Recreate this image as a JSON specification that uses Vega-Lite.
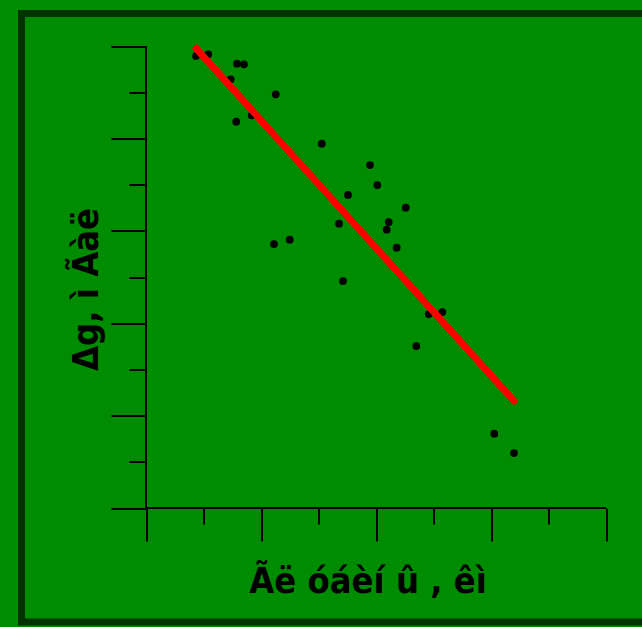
{
  "$schema": "https://vega.github.io/schema/vega-lite/v6.json",
  "width": 625,
  "height": 608.5,
  "autosize": {"type": "none"},
  "padding": {"left": 21.5, "top": 13.5, "right": -4.5, "bottom": 5},
  "background": "#008c00",
  "config": {"view": {"fill": "#008c00", "stroke": "#003300", "strokeWidth": 7}},
  "datasets": {
    "points": [
      {"x": 0.870, "y": 9.784}, {"x": 1.083, "y": 9.820}, {"x": 1.583, "y": 9.617}, {"x": 1.704, "y": 9.604},
      {"x": 1.473, "y": 9.279}, {"x": 2.256, "y": 8.955}, {"x": 1.570, "y": 8.361}, {"x": 1.838, "y": 8.500},
      {"x": 3.056, "y": 7.885}, {"x": 3.896, "y": 7.424}, {"x": 4.023, "y": 6.991}, {"x": 3.513, "y": 6.775},
      {"x": 4.517, "y": 6.500}, {"x": 4.221, "y": 6.190}, {"x": 4.186, "y": 6.024}, {"x": 3.357, "y": 6.154},
      {"x": 2.499, "y": 5.807}, {"x": 2.226, "y": 5.714}, {"x": 4.360, "y": 5.634}, {"x": 3.426, "y": 4.913},
      {"x": 4.917, "y": 4.199}, {"x": 5.153, "y": 4.242}, {"x": 4.701, "y": 3.506}, {"x": 6.057, "y": 1.608},
      {"x": 6.400, "y": 1.190}
    ],
    "fit": [{"x": 0.870, "y": 9.950}, {"x": 6.400, "y": 2.316}],
    "origin": [{}]
  },
  "layer": [
    {
      "data": {"name": "origin"},
      "mark": {"type": "rule", "color": "black", "strokeWidth": 2},
      "encoding": {
        "x": {"datum": 0, "type": "quantitative", "scale": {"domain": [-2.1652, 8.704], "nice": false, "zero": false},
          "axis": {"title": "Ãë óáèí û , êì", "values": [0,1,2,3,4,5,6,7,8], "labels": false, "domain": false, "grid": false, "offset": -114, "tickColor": "black", "tickWidth": 2, "tickSize": {"condition": {"test": "datum.value % 2 === 0", "value": 33}, "value": 16}, "titleFont": "DejaVu Sans Condensed, Liberation Sans, sans-serif", "titleFontSize": 36, "titleFontWeight": "bold", "titleColor": "black", "titleX": 346, "titleY": 84, "titleAlign": "center", "titleBaseline": "alphabetic"}},
        "x2": {"datum": 8},
        "y": {"datum": 0, "type": "quantitative", "scale": {"domain": [-2.4675, 10.7035], "nice": false, "zero": false},
          "axis": {"title": "Δg, ì Ãàë", "values": [0,1,2,3,4,5,6,7,8,9,10], "labels": false, "domain": false, "grid": false, "offset": -124.5, "tickColor": "black", "tickWidth": 2, "tickSize": {"condition": {"test": "datum.value % 2 === 0", "value": 35}, "value": 17}, "titleFont": "DejaVu Sans Condensed, Liberation Sans, sans-serif", "titleFontSize": 36, "titleFontWeight": "bold", "titleColor": "black", "titleAngle": -90, "titleX": -48.5, "titleY": 275.5, "titleAlign": "center", "titleBaseline": "alphabetic"}}
      }
    },
    {
      "data": {"name": "origin"},
      "mark": {"type": "rule", "color": "black", "strokeWidth": 2},
      "encoding": {
        "x": {"datum": 0, "type": "quantitative", "scale": {"domain": [-2.1652, 8.704], "nice": false, "zero": false},
          "axis": {"title": "Ãë óáèí û , êì", "values": [0,1,2,3,4,5,6,7,8], "labels": false, "domain": false, "grid": false, "offset": -114, "tickColor": "black", "tickWidth": 2, "tickSize": {"condition": {"test": "datum.value % 2 === 0", "value": 33}, "value": 16}, "titleFont": "DejaVu Sans Condensed, Liberation Sans, sans-serif", "titleFontSize": 36, "titleFontWeight": "bold", "titleColor": "black", "titleX": 346, "titleY": 84, "titleAlign": "center", "titleBaseline": "alphabetic"}},
        "y": {"datum": 0, "type": "quantitative", "scale": {"domain": [-2.4675, 10.7035], "nice": false, "zero": false},
          "axis": {"title": "Δg, ì Ãàë", "values": [0,1,2,3,4,5,6,7,8,9,10], "labels": false, "domain": false, "grid": false, "offset": -124.5, "tickColor": "black", "tickWidth": 2, "tickSize": {"condition": {"test": "datum.value % 2 === 0", "value": 35}, "value": 17}, "titleFont": "DejaVu Sans Condensed, Liberation Sans, sans-serif", "titleFontSize": 36, "titleFontWeight": "bold", "titleColor": "black", "titleAngle": -90, "titleX": -48.5, "titleY": 275.5, "titleAlign": "center", "titleBaseline": "alphabetic"}},
        "y2": {"datum": 10}
      }
    },
    {
      "data": {"name": "points"},
      "mark": {"type": "circle", "color": "black", "opacity": 1, "size": 60},
      "encoding": {
        "x": {"field": "x", "type": "quantitative", "scale": {"domain": [-2.1652, 8.704], "nice": false, "zero": false},
          "axis": {"title": "Ãë óáèí û , êì", "values": [0,1,2,3,4,5,6,7,8], "labels": false, "domain": false, "grid": false, "offset": -114, "tickColor": "black", "tickWidth": 2, "tickSize": {"condition": {"test": "datum.value % 2 === 0", "value": 33}, "value": 16}, "titleFont": "DejaVu Sans Condensed, Liberation Sans, sans-serif", "titleFontSize": 36, "titleFontWeight": "bold", "titleColor": "black", "titleX": 346, "titleY": 84, "titleAlign": "center", "titleBaseline": "alphabetic"}},
        "y": {"field": "y", "type": "quantitative", "scale": {"domain": [-2.4675, 10.7035], "nice": false, "zero": false},
          "axis": {"title": "Δg, ì Ãàë", "values": [0,1,2,3,4,5,6,7,8,9,10], "labels": false, "domain": false, "grid": false, "offset": -124.5, "tickColor": "black", "tickWidth": 2, "tickSize": {"condition": {"test": "datum.value % 2 === 0", "value": 35}, "value": 17}, "titleFont": "DejaVu Sans Condensed, Liberation Sans, sans-serif", "titleFontSize": 36, "titleFontWeight": "bold", "titleColor": "black", "titleAngle": -90, "titleX": -48.5, "titleY": 275.5, "titleAlign": "center", "titleBaseline": "alphabetic"}}
      }
    },
    {
      "data": {"name": "fit"},
      "mark": {"type": "line", "color": "#ff0000", "strokeWidth": 7, "strokeCap": "round"},
      "encoding": {
        "x": {"field": "x", "type": "quantitative", "scale": {"domain": [-2.1652, 8.704], "nice": false, "zero": false},
          "axis": {"title": "Ãë óáèí û , êì", "values": [0,1,2,3,4,5,6,7,8], "labels": false, "domain": false, "grid": false, "offset": -114, "tickColor": "black", "tickWidth": 2, "tickSize": {"condition": {"test": "datum.value % 2 === 0", "value": 33}, "value": 16}, "titleFont": "DejaVu Sans Condensed, Liberation Sans, sans-serif", "titleFontSize": 36, "titleFontWeight": "bold", "titleColor": "black", "titleX": 346, "titleY": 84, "titleAlign": "center", "titleBaseline": "alphabetic"}},
        "y": {"field": "y", "type": "quantitative", "scale": {"domain": [-2.4675, 10.7035], "nice": false, "zero": false},
          "axis": {"title": "Δg, ì Ãàë", "values": [0,1,2,3,4,5,6,7,8,9,10], "labels": false, "domain": false, "grid": false, "offset": -124.5, "tickColor": "black", "tickWidth": 2, "tickSize": {"condition": {"test": "datum.value % 2 === 0", "value": 35}, "value": 17}, "titleFont": "DejaVu Sans Condensed, Liberation Sans, sans-serif", "titleFontSize": 36, "titleFontWeight": "bold", "titleColor": "black", "titleAngle": -90, "titleX": -48.5, "titleY": 275.5, "titleAlign": "center", "titleBaseline": "alphabetic"}}
      }
    }
  ]
}
